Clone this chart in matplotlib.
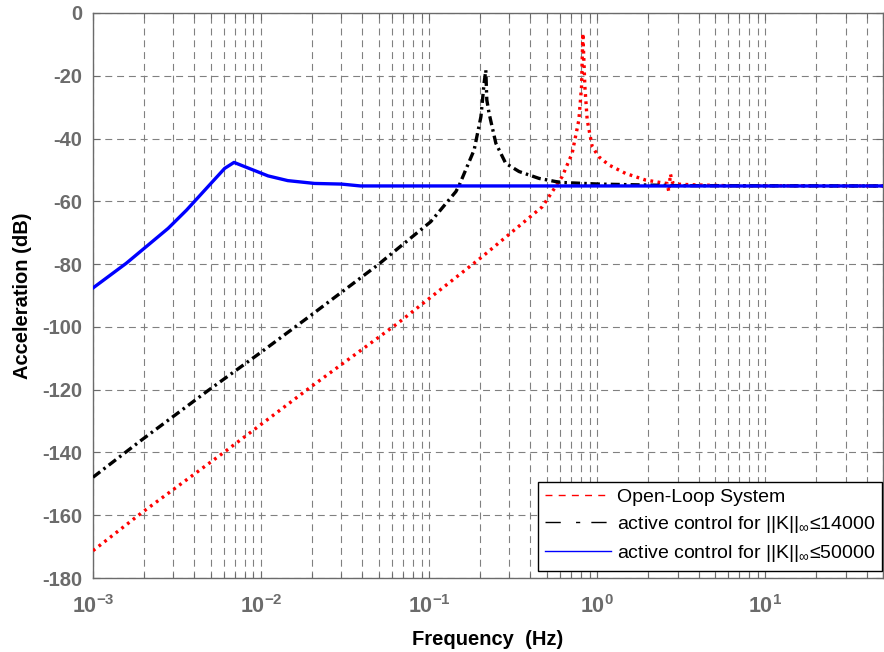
import matplotlib
matplotlib.use("Agg")
import matplotlib.pyplot as plt
from matplotlib.lines import Line2D
from matplotlib.ticker import FixedLocator, FixedFormatter, LogLocator, NullFormatter

plt.rcParams["font.family"] = ["Liberation Sans", "DejaVu Sans"]
plt.rcParams["mathtext.fontset"] = "custom"
plt.rcParams["mathtext.rm"] = "Liberation Sans"
plt.rcParams["mathtext.it"] = "Liberation Sans"
plt.rcParams["mathtext.bf"] = "Liberation Sans:bold"
plt.rcParams["axes.unicode_minus"] = False
plt.rcParams["lines.scale_dashes"] = False

# Open-loop response (frequency in Hz, acceleration in dB)
open_loop_f = [0.001, 0.00195, 0.00607, 0.0199, 0.0648, 0.207, 0.471, 0.618,
               0.708, 0.776, 0.805, 0.82, 0.843, 0.87, 0.932, 1.02, 1.17,
               1.47, 1.93, 2.43, 2.6, 2.66, 2.72, 2.8, 2.91, 4.0, 6.0, 50.0]
open_loop_db = [-171.3, -159.2, -139.8, -119.0, -98.9, -77.6, -61.7, -52.1,
                -44.7, -34.1, -23.5, -6.5, -23.5, -34.1, -42.6, -45.8, -48.4,
                -51.1, -53.2, -54.1, -54.3, -56.9, -51.3, -54.0, -54.5, -54.8,
                -55.0, -55.1]

# Active control, ||K|| < 14000
k14_f = [0.001, 0.00195, 0.00483, 0.0098, 0.0199, 0.0493, 0.102, 0.144,
         0.151, 0.185, 0.203, 0.212, 0.217, 0.22, 0.227, 0.249, 0.285, 0.342,
         0.45, 0.565, 0.618, 1.02, 3.0, 50.0]
k14_db = [-147.9, -136.0, -120.3, -108.4, -96.2, -80.3, -66.5, -56.9,
          -54.8, -43.6, -33.0, -22.3, -18.2, -27.7, -32.0, -41.5, -47.9, -50.5,
          -52.7, -53.7, -54.0, -54.5, -55.0, -55.1]

# Active control, ||K|| < 50000
k50_f = [0.001, 0.00158, 0.0028, 0.0036, 0.00607, 0.0069, 0.011, 0.0144,
         0.0208, 0.030, 0.039, 50.0]
k50_db = [-87.6, -79.7, -68.6, -62.8, -49.5, -47.6, -51.9, -53.4,
          -54.3, -54.5, -55.1, -55.1]

y_ticks = list(range(-180, 1, 20))
x_major = [1e-3, 1e-2, 1e-1, 1e0, 1e1]
x_labels = [r"$\mathbf{10^{-3}}$", r"$\mathbf{10^{-2}}$", r"$\mathbf{10^{-1}}$",
            r"$\mathbf{10^{0}}$", r"$\mathbf{10^{1}}$"]
legend_labels = ["Open-Loop System",
                 r"active control for $||K||_{\infty}$≤14000",
                 r"active control for $||K||_{\infty}$≤50000"]

fig = plt.figure(figsize=(8.84, 6.52), dpi=100)
ax = fig.add_axes([93 / 884, 1 - 578 / 652, 790 / 884, 565 / 652])

ax.plot(open_loop_f, open_loop_db, color="red", lw=2.4,
        linestyle=(0, (2.0, 3.2)), zorder=3)
ax.plot(k14_f, k14_db, color="black", lw=2.4,
        linestyle=(0, (6.5, 3.0, 1.8, 3.0)), zorder=3)
ax.plot(k50_f, k50_db, color="blue", lw=2.4, zorder=4)

ax.set_xscale("log")
ax.set_xlim(1e-3, 50)
ax.set_ylim(-180, 0)

ax.xaxis.set_major_locator(FixedLocator(x_major))
ax.xaxis.set_major_formatter(FixedFormatter(x_labels))
ax.xaxis.set_minor_locator(LogLocator(base=10, subs=range(2, 10), numticks=20))
ax.xaxis.set_minor_formatter(NullFormatter())
ax.set_yticks(y_ticks)
ax.set_yticklabels([str(v) for v in y_ticks])

grid_style = dict(color="0.5", linestyle=(0, (5.0, 3.5)), linewidth=0.8)
ax.grid(True, which="major", axis="both", **grid_style)
ax.grid(True, which="minor", axis="x", **grid_style)
ax.set_axisbelow(True)

axis_gray = "0.42"
for sp in ax.spines.values():
    sp.set_color(axis_gray)
    sp.set_linewidth(1.0)
ax.tick_params(which="both", direction="in", top=True, right=True,
               color=axis_gray, labelcolor=axis_gray)
ax.tick_params(which="major", length=5, width=0.8)
ax.tick_params(which="minor", length=3.5, width=0.8)
ax.tick_params(axis="x", which="major", pad=12, labelsize=15.5)
ax.tick_params(axis="y", which="major", pad=8, labelsize=14.5)
for lab in ax.get_yticklabels():
    lab.set_fontweight("bold")

ax.set_xlabel("Frequency  (Hz)", fontsize=14.5, fontweight="bold", labelpad=9)
ax.set_ylabel("Acceleration (dB)", fontsize=14.5, fontweight="bold", labelpad=7)

handles = [
    Line2D([], [], color="red", lw=1.0, linestyle=(0, (5.0, 4.5))),
    Line2D([], [], color="black", lw=1.0, linestyle=(0, (11.0, 11.0, 3.0, 8.0))),
    Line2D([], [], color="blue", lw=1.0),
]
leg = ax.legend(handles, legend_labels, loc="lower right",
                bbox_to_anchor=(0.999, 0.013), borderaxespad=0,
                fontsize=14, handlelength=3.4, handletextpad=0.3,
                labelspacing=0.4, borderpad=0.35, fancybox=False,
                framealpha=1.0, edgecolor="black")
leg.get_frame().set_linewidth(1.0)

fig.savefig("out.png", dpi=100)
